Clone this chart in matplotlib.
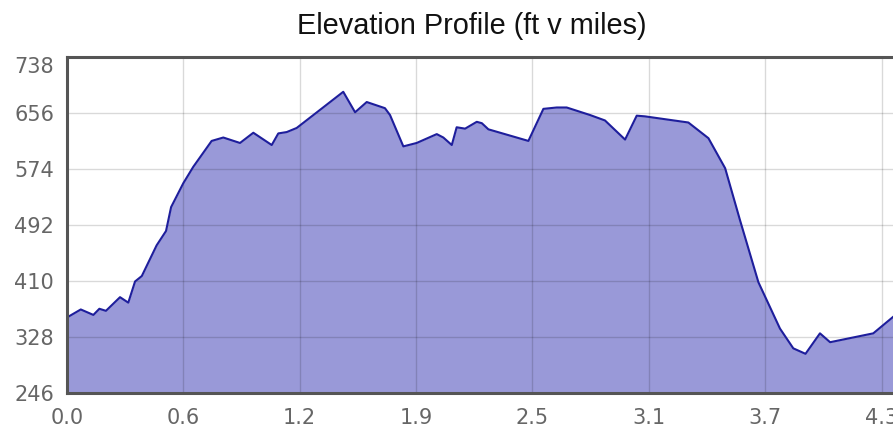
import matplotlib
matplotlib.use("Agg")
import matplotlib.pyplot as plt
import numpy as np

# Distance (miles) and elevation (ft)
miles = [0.000, 0.075, 0.142, 0.174, 0.209, 0.284, 0.328, 0.364, 0.400, 0.479,
         0.529, 0.556, 0.621, 0.674, 0.772, 0.834, 0.923, 0.994, 1.092, 1.127,
         1.172, 1.225, 1.314, 1.473, 1.536, 1.598, 1.695, 1.722, 1.793, 1.864,
         1.971, 2.006, 2.051, 2.077, 2.122, 2.184, 2.211, 2.246, 2.459, 2.539,
         2.610, 2.663, 2.787, 2.867, 2.974, 3.036, 3.080, 3.311, 3.418, 3.507,
         3.586, 3.684, 3.799, 3.870, 3.935, 4.012, 4.066, 4.296, 4.401]
elev_ft = [356, 368, 360, 369, 366, 386, 378, 409, 417, 462,
           483, 518, 553, 577, 615, 620, 612, 627, 609, 626,
           628, 634, 653, 687, 657, 672, 663, 653, 607, 612,
           625, 620, 609, 635, 633, 643, 641, 632, 615, 662,
           664, 664, 653, 645, 617, 652, 651, 642, 619, 575,
           499, 408, 340, 311, 303, 333, 320, 333, 357]

x_ticks = [0.0, 0.62, 1.24, 1.86, 2.48, 3.10, 3.72, 4.34]
x_labels = ["0.0", "0.6", "1.2", "1.9", "2.5", "3.1", "3.7", "4.3"]
y_ticks = [246, 328, 410, 492, 574, 656, 738]
y_labels = ["246", "328", "410", "492", "574", "656", "738"]
title = "Elevation Profile (ft v miles)"

W, H = 893, 430
fig = plt.figure(figsize=(W / 100, H / 100), dpi=100)
left, right, top, bottom = 66.7, 893, 57, 392.7
ax = fig.add_axes([left / W, 1 - bottom / H, (right - left) / W, (bottom - top) / H])

ax.fill_between(miles, elev_ft, y_ticks[0], color="#9999d8", linewidth=0, zorder=1)
ax.plot(miles, elev_ft, color="#1e1e9c", linewidth=1.5, zorder=4,
        solid_joinstyle="round")

ax.set_xlim(0, 4.401)
ax.set_ylim(y_ticks[0], y_ticks[-1])
ax.set_xticks(x_ticks)
ax.set_xticklabels(x_labels)
ax.set_yticks(y_ticks)
ax.set_yticklabels(y_labels)

ax.set_axisbelow(False)
ax.grid(True, color="black", alpha=0.15, linewidth=1.0, zorder=2)

ax.tick_params(axis="both", length=0, labelsize=15, colors="#666666")
ax.tick_params(axis="x", pad=11)
ax.tick_params(axis="y", pad=9)
for lab in ax.get_xticklabels() + ax.get_yticklabels():
    lab.set_fontfamily("DejaVu Sans")
ax.get_yticklabels()[-1].set_va("top")

for side in ["left", "bottom", "top"]:
    ax.spines[side].set_color("#555555")
    ax.spines[side].set_linewidth(2.2)
    ax.spines[side].set_zorder(5)
ax.spines["right"].set_visible(False)

fig.text(471.7 / W, 1 - 26 / H, title, ha="center", va="center",
         fontsize=20.8, family="Liberation Sans", color="#111111")

fig.savefig("out.png", dpi=100)
